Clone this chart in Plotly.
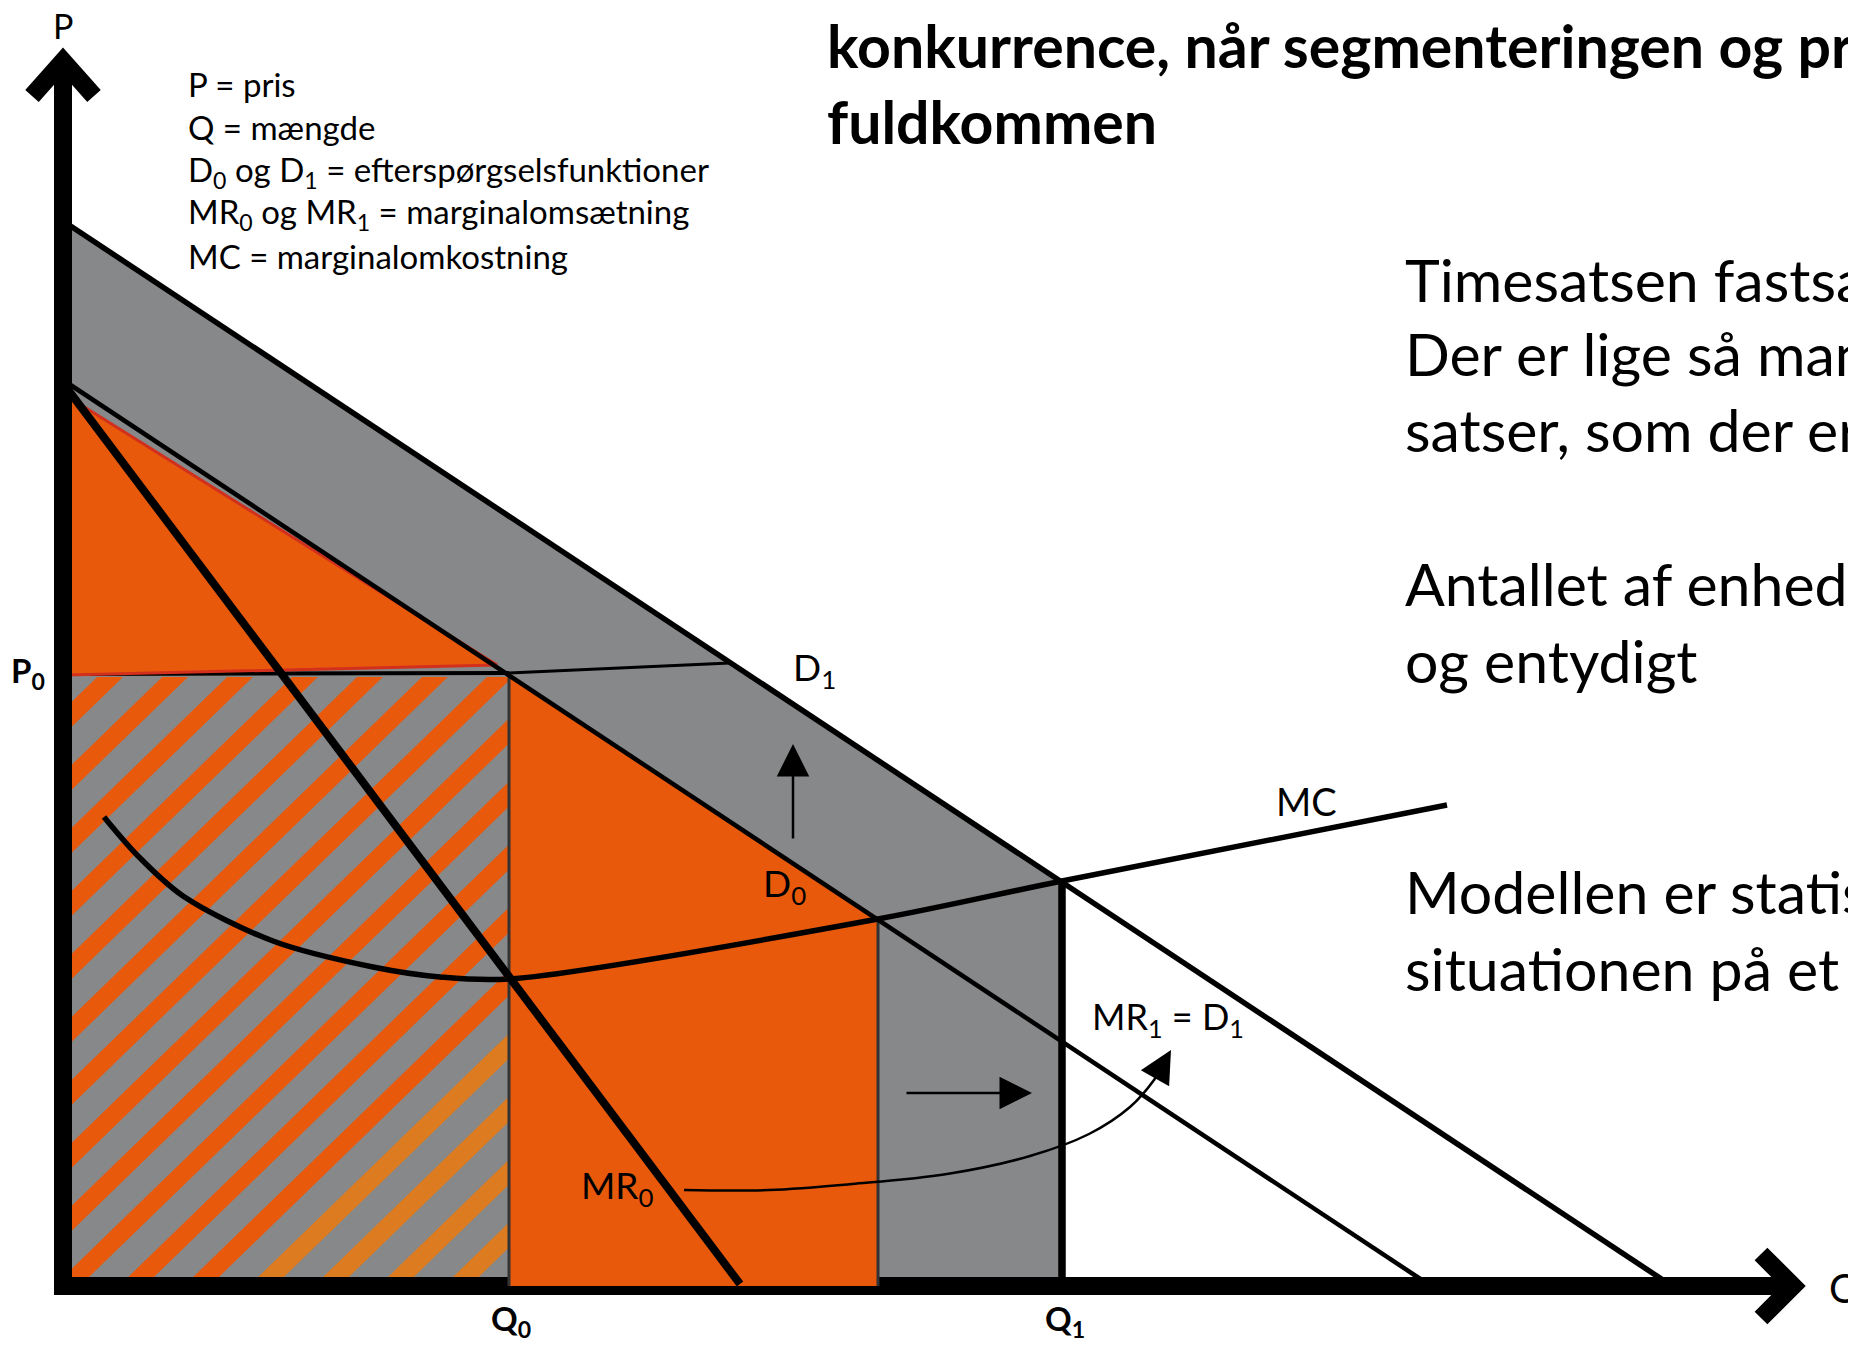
import plotly.graph_objects as go

# ---------------- data (Q = quantity, P = price) ----------------
D1_Q = [0, 1606]
D1_P = [1063, 0]
D0_Q = [0, 1365]
D0_P = [904, 0]
MR0_Q = [0, 677]
MR0_P = [901, 0]
MC_Q = [41, 75, 120, 210, 310, 377, 446, 815, 999, 1384]
MC_P = [467, 428, 388, 343, 317, 307, 305, 365, 403, 479]

Q0, Q2, Q1 = 446, 815, 999          # Q0, MC x D0, Q1
P_D0_Q0, P_D0_Q2, P_D1_Q1 = 609, 365, 403
P_D1_Q0 = 1063                      # D1 at the price axis

P0_LINE_Q = [0, 446, 667]
P0_LINE_P = [610, 611, 621]
TRI_Q = [7, 5, 434]
TRI_P = [886, 609, 619]
HATCH_Q = [9, 445]
HATCH_P = [7, 607]

ARC_Q = [621, 706, 789, 884, 967, 1026, 1067, 1091, 1104]
ARC_P = [94, 94, 100, 110, 128, 150, 177, 204, 226]

AXIS_P_TOP = 1223
AXIS_Q_END = 1730

GRAY = "#87888a"
ORANGE = "#e8590c"
LIGHT_ORANGE = "#dc7b1f"
RED = "#d2301c"
FONT = "Lato"

fig = go.Figure()


def poly(xs, ys, fill, line_color=None, line_width=0):
    fig.add_trace(go.Scatter(
        x=list(xs) + [xs[0]], y=list(ys) + [ys[0]], mode="lines", fill="toself",
        fillcolor=fill, line=dict(color=line_color or fill, width=line_width),
        hoverinfo="skip"))


def line(xs, ys, width, color="black", shape="linear", smoothing=1.0):
    fig.add_trace(go.Scatter(
        x=xs, y=ys, mode="lines",
        line=dict(color=color, width=width, shape=shape, smoothing=smoothing),
        hoverinfo="skip"))


# gray area between the axes, D1 and Q1
poly([0, Q1, Q1, 0], [P_D1_Q0, P_D1_Q1, 0, 0], GRAY)

# hatched stripes (45-ish degree pattern) clipped to hatch rectangle
def clip(pts, lim, keep_above):
    out = []
    n = len(pts)
    for i in range(n):
        cur, prev = pts[i], pts[i - 1]
        cin = cur[1] >= lim if keep_above else cur[1] <= lim
        pin = prev[1] >= lim if keep_above else prev[1] <= lim
        if cin != pin:
            t = (lim - prev[1]) / (cur[1] - prev[1])
            out.append((prev[0] + t * (cur[0] - prev[0]), lim))
        if cin:
            out.append(cur)
    return out

slope, period, half = 0.97, 63, 12.5
qa, qb = HATCH_Q
stripes = {ORANGE: ([], []), LIGHT_ORANGE: ([], [])}
for k in range(-8, 8):
    d = 66 - period * k
    band = [(qa, d - half), (qb, d + slope * (qb - qa) - half),
            (qb, d + slope * (qb - qa) + half), (qa, d + half)]
    band = clip(band, HATCH_P[0], True)
    if band:
        band = clip(band, HATCH_P[1], False)
    if len(band) < 3:
        continue
    col = LIGHT_ORANGE if k >= 4 else ORANGE
    xs, ys = stripes[col]
    xs += [p[0] for p in band] + [band[0][0], None]
    ys += [p[1] for p in band] + [band[0][1], None]
for col, (xs, ys) in stripes.items():
    fig.add_trace(go.Scatter(x=xs, y=ys, mode="lines", fill="toself", fillcolor=col,
                             line=dict(width=0, color=col), hoverinfo="skip"))

# P0 price line
line(P0_LINE_Q[:2], P0_LINE_P[:2], 4)
line(P0_LINE_Q[1:], P0_LINE_P[1:], 3)

# orange consumer-surplus triangle
poly(TRI_Q, TRI_P, ORANGE, RED, 3)

# axes with chevron arrow heads
line([0, 0], [-11, AXIS_P_TOP], 18)
line([-31, 0, 31], [AXIS_P_TOP - 35, AXIS_P_TOP, AXIS_P_TOP - 35], 18)
line([-9, AXIS_Q_END], [-2, -2], 18)
line([AXIS_Q_END - 32, AXIS_Q_END, AXIS_Q_END - 32], [30, -2, -34], 18)

# orange area between Q0 and Q2 under D0
poly([Q0, Q2, Q2, Q0], [P_D0_Q0, P_D0_Q2, -2, -2], ORANGE)

# vertical lines
line([Q0, Q0], [P_D0_Q0, -2], 3, "#333333")
line([Q2, Q2], [P_D0_Q2, -2], 3, "#333333")
line([Q1, Q1], [P_D1_Q1, 0], 7.5)

# curves
line(D1_Q, D1_P, 5.5)
line(D0_Q, D0_P, 4.5)
line(MR0_Q, MR0_P, 8)
line(MC_Q, MC_P, 5.5, shape="spline", smoothing=0.9)
line(ARC_Q, ARC_P, 2.5, shape="spline", smoothing=1.0)

ann = []

def arrow(xh, yh, xt, yt, size=2.6):
    ann.append(dict(x=xh, y=yh, ax=xt, ay=yt, xref="x", yref="y", axref="x", ayref="y",
                    text="", showarrow=True, arrowhead=2, arrowsize=size,
                    arrowwidth=2.5, arrowcolor="black", standoff=0))

arrow(730, 540, 730, 444)
arrow(969, 191, 842, 191)
arrow(ARC_Q[-1] + 4, ARC_P[-1] + 8, ARC_Q[-2], ARC_P[-2])


def text(t, x, y, size, anchor="center", weight=400, color="black", vanchor="middle"):
    ann.append(dict(x=x, y=y, xref="x", yref="y", text=t, showarrow=False,
                    xanchor=anchor, yanchor=vanchor,
                    font=dict(family=FONT, size=size, color=color, weight=weight)))

# diagram labels
text("P", 0, 1259, 34)
text("Q", 1764, -4, 40, anchor="left")
text("P<sub>0</sub>", -54, 612, 33, anchor="left", weight=700)
text("Q<sub>0</sub>", 448, -36, 33, weight=700)
text("Q<sub>1</sub>", 1002, -36, 33, weight=700)
text("D<sub>1</sub>", 751, 615, 37)
text("D<sub>0</sub>", 721, 399, 37)
text("MC", 1243, 483, 38)
text("MR<sub>1</sub> = D<sub>1</sub>", 1105, 266, 36)
text("MR<sub>0</sub>", 554, 97, 37)

# legend block
legend_lines = ["P = pris", "Q = mængde",
                "D<sub>0</sub> og D<sub>1</sub> = efterspørgselsfunktioner",
                "MR<sub>0</sub> og MR<sub>1</sub> = marginalomsætning",
                "MC = marginalomkostning"]
legend_P = [1200, 1157, 1113, 1071, 1028]
for t, p in zip(legend_lines, legend_P):
    text(t, 123, p, 33, anchor="left")

# slide title (cut at right edge)
title_lines = ["konkurrence, når segmenteringen og prisdiskriminationen er", "fuldkommen"]
title_P = [1239, 1163]
for t, p in zip(title_lines, title_P):
    text(t, 762, p, 59, anchor="left", weight=700)

# slide body text (cut at right edge)
body_lines = ["Timesatsen fastsat individuelt for hver kunde.",
              "Der er lige så mange forskellige time-",
              "satser, som der er kunder",
              "Antallet af enheder er bestemt klart",
              "og entydigt",
              "Modellen er statisk og beskriver",
              "situationen på et givet tidspunkt"]
body_P = [1005, 931, 855, 701, 624, 393, 316]
for t, p in zip(body_lines, body_P):
    text(t, 1340, p, 59, anchor="left")

# the page body adds an 8 px offset; shift ranges so the drawing sits where the reference has it
fig.update_layout(
    width=1856, height=1348, margin=dict(l=0, r=0, t=0, b=0),
    paper_bgcolor="white", plot_bgcolor="white", showlegend=False,
    xaxis=dict(range=[-55, 1801], visible=False, fixedrange=True),
    yaxis=dict(range=[-72, 1276], visible=False, fixedrange=True),
    annotations=ann,
)

fig.write_html("out.html", config={"displayModeBar": False})
